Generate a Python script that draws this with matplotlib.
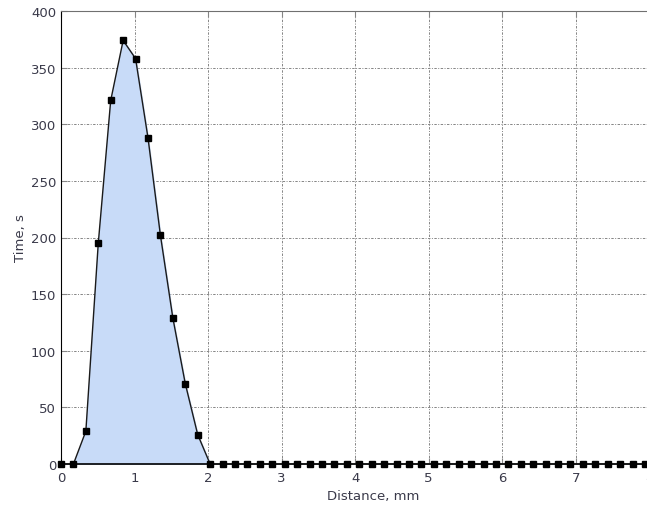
import matplotlib
matplotlib.use('Agg')
import matplotlib.pyplot as plt
import numpy as np

# distance step between samples (mm) and sampled times (s)
dx = 0.169
time_s = [0, 0, 29, 195, 321, 374, 358, 288, 202, 129, 71, 26,
          0, 0, 0, 0, 0, 0, 0, 0, 0, 0, 0, 0, 0,
          0, 0, 0, 0, 0, 0, 0, 0, 0, 0, 0, 0, 0,
          0, 0, 0, 0, 0, 0, 0, 0, 0, 0, 0, 0]
dist_mm = np.arange(len(time_s)) * dx

xticks = [0, 1, 2, 3, 4, 5, 6, 7, 8]
yticks = [0, 50, 100, 150, 200, 250, 300, 350, 400]

txt_col = '#3a3a4a'
grid_col = '#858585'

fig = plt.figure(figsize=[6.47, 5.10], dpi=100)
ax = fig.add_axes([61/647, 45/510, 625/647, 453/510])

ax.fill_between(dist_mm, time_s, 0, color='#c8dbf8', zorder=1)
ax.plot(dist_mm, time_s, color='#1a1a1a', linewidth=1.0, marker='s',
        markersize=5, markerfacecolor='black', markeredgecolor='black',
        zorder=3, clip_on=False)

ax.set_xlim(0, 8.5)
ax.set_ylim(0, 400)
ax.set_xticks(xticks)
ax.set_yticks(yticks)

ax.grid(True, color=grid_col, linestyle=(0, (2.5, 1.5, 1, 1.5)), linewidth=0.7)
ax.set_axisbelow(True)

ax.tick_params(axis='both', direction='in', length=4, labelsize=9.5,
               labelcolor=txt_col, color=grid_col, top=True)
ax.tick_params(axis='x', pad=5)

ax.spines['left'].set_color('black')
ax.spines['bottom'].set_color('black')
ax.spines['bottom'].set_linewidth(1.2)
ax.spines['top'].set_color('#707070')
ax.spines['right'].set_visible(False)

ax.set_xlabel('Distance, mm', fontsize=9.5, color=txt_col, labelpad=4)
ax.set_ylabel('Time, s', fontsize=9.5, color=txt_col, labelpad=3)

plt.savefig('out.png', dpi=100)
plt.close(fig)
